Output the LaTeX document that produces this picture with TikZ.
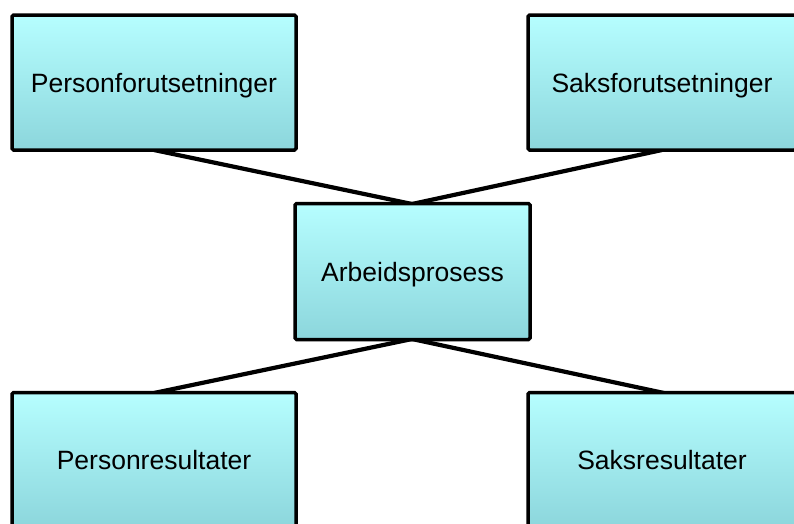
\documentclass[tikz,border=0pt]{standalone}
\usepackage{fontspec}
\setmainfont{Liberation Sans}
\usetikzlibrary{shadows}
\definecolor{boxtop}{RGB}{182,254,255}
\definecolor{boxbot}{RGB}{140,214,220}
\tikzset{
  box/.style={draw=black, line width=3.5pt, rounded corners=1.5pt, top color=boxtop, bottom color=boxbot,
    inner sep=0pt, font=\fontsize{26.5}{30}\selectfont, text height=25pt, text depth=5.5pt,
    drop shadow={opacity=0.25, shadow xshift=1.5pt, shadow yshift=-1.5pt}},
  link/.style={draw=black, line width=4.2pt}
}
\begin{document}
\begin{tikzpicture}[x=1pt,y=-1pt]
\useasboundingbox (0,0) rectangle (794,523);
\clip (0,0) rectangle (794,523);
\fill[white] (0,0) rectangle (794,523);
% coordinates for connector ends
\coordinate (tlb) at (154,150);
\coordinate (trb) at (662,150);
\coordinate (mt) at (412,204);
\coordinate (mb) at (412,339);
\coordinate (blt) at (154,393);
\coordinate (brt) at (664,393);
\draw[link] (tlb) -- (mt);
\draw[link] (trb) -- (mt);
\draw[link] (mb) -- (blt);
\draw[link] (mb) -- (brt);
\node[box, minimum width=284pt, minimum height=135pt] (tl) at (154,82.5) {Personforutsetninger};
\node[box, minimum width=268pt, minimum height=135pt] (tr) at (662,82.5) {Saksforutsetninger};
\node[box, minimum width=235pt, minimum height=136pt] (mid) at (412.5,271.5) {Arbeidsprosess};
\node[box, minimum width=284pt, minimum height=135pt] (bl) at (154,460) {Personresultater};
\node[box, minimum width=268pt, minimum height=135pt] (br) at (662,460) {Saksresultater};
\end{tikzpicture}
\end{document}
